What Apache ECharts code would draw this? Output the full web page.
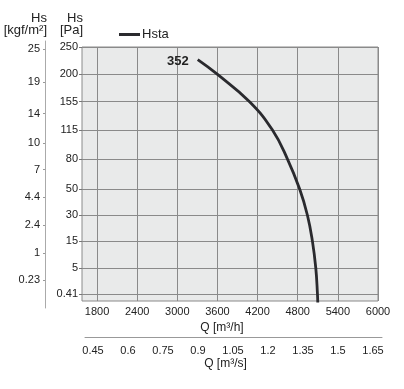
<!DOCTYPE html>
<html><head><meta charset="utf-8">
<script src="https://cdn.jsdelivr.net/npm/echarts@6/dist/echarts.min.js"></script>
<style>html,body{margin:0;padding:0;background:#fff}#c{width:404px;height:389px}</style>
</head><body><div id="c"></div>
<script>
const flowM3h = [3305, 3596, 4080, 4420, 4645, 4830, 4945, 5020, 5070, 5095, 5100];
const pressurePa = [226, 200, 155, 115, 80, 50, 30, 15, 5, 0.41, 0];
const paTicks = [0.41, 5, 15, 30, 50, 80, 115, 155, 200, 250];
const kgfTicks = [0.23, 1, 2.4, 4.4, 7, 10, 14, 19, 25];
const qhTicks = [1800, 2400, 3000, 3600, 4200, 4800, 5400, 6000];
const qsTicks = [0.45, 0.6, 0.75, 0.9, 1.05, 1.2, 1.35, 1.5, 1.65];
const seriesName = 'Hsta';
const pointLabel = '352';
const PA_PER_KGF = 9.81;

const FONT = 'Liberation Sans';
const TXT = '#222';
// square-root pressure scale
const sq = v => Math.sqrt(v);
const paPos = paTicks.map(sq);
const kgfPos = kgfTicks.map(k => sq(k * PA_PER_KGF));

function nearestLabel(val, positions, labels) {
  let best = 0, d = Infinity;
  positions.forEach((p, i) => { const dd = Math.abs(p - val); if (dd < d) { d = dd; best = i; } });
  return String(labels[best]);
}

const chart = echarts.init(document.getElementById('c'), null, {renderer: 'canvas'});
const lbl = {fontFamily: FONT, fontSize: 11, color: TXT};
const Y_MIN = 0.209, Y_MAX = sq(250);
const PX_PER_UNIT = 254 / (Y_MAX - Y_MIN);

chart.setOption({
  animation: false,
  backgroundColor: '#fff',
  textStyle: {fontFamily: FONT},
  legend: {
    left: 114, top: 23, icon: 'rect', itemWidth: 21, itemHeight: 3, itemGap: 4,
    textStyle: {fontFamily: FONT, fontSize: 13, color: TXT, padding: [0, 0, 0, -3]},
    data: [seriesName]
  },
  grid: [
    {left: 82, right: 26, top: 47, bottom: 88, show: true, backgroundColor: '#e9eaea', borderColor: '#8a8a8a', borderWidth: 1, containLabel: false},
    {left: 45, width: 1, top: 41, bottom: 81, show: false, containLabel: false},
    {left: 85, right: 22, top: 336, height: 1, show: false, containLabel: false}
  ],
  xAxis: [
    {
      gridIndex: 0, type: 'value', min: 1575, max: 6000,
      axisLine: {show: false},
      axisTick: {show: false, customValues: qhTicks},
      axisLabel: {...lbl, margin: 5, customValues: qhTicks, formatter: v => String(v)},
      splitLine: {show: true, lineStyle: {color: '#8a8a8a', width: 1}},
      name: 'Q [m³/h]', nameLocation: 'middle', nameGap: 17,
      nameTextStyle: {fontFamily: FONT, fontSize: 12, color: TXT, padding: [0, 16, 0, 0]}
    },
    {
      gridIndex: 1, type: 'value', min: 0, max: 1, show: false
    },
    {
      gridIndex: 2, type: 'value', min: 0.4157, max: 1.6886, position: 'bottom',
      axisLine: {show: true, onZero: false, lineStyle: {color: '#999', width: 1}},
      axisTick: {show: false, customValues: qsTicks},
      axisLabel: {...lbl, margin: 8, customValues: qsTicks, formatter: v => String(v)},
      splitLine: {show: false},
      name: 'Q [m³/s]', nameLocation: 'middle', nameGap: 21,
      nameTextStyle: {fontFamily: FONT, fontSize: 12, color: TXT, padding: [0, 16, 0, 0]}
    }
  ],
  yAxis: [
    {
      gridIndex: 0, type: 'value', min: Y_MIN, max: Y_MAX,
      axisLine: {show: false},
      axisTick: {show: true, length: 3, customValues: paPos, lineStyle: {color: '#777'}},
      axisLabel: {...lbl, margin: 4, customValues: paPos, formatter: v => nearestLabel(v, paPos, paTicks)},
      splitLine: {show: true, lineStyle: {color: '#8a8a8a', width: 1}},
      name: 'Hs\n[Pa]', nameLocation: 'end', nameGap: 11,
      nameTextStyle: {fontFamily: FONT, fontSize: 13, color: TXT, align: 'right', verticalAlign: 'bottom', lineHeight: 12, padding: [0, -1, 0, 0]}
    },
    {
      gridIndex: 1, type: 'value', min: Y_MIN - 7 / PX_PER_UNIT, max: Y_MAX + 6 / PX_PER_UNIT,
      axisLine: {show: true, lineStyle: {color: '#aaa', width: 1}},
      axisTick: {show: true, length: 2, customValues: kgfPos, lineStyle: {color: '#999'}},
      axisLabel: {...lbl, margin: 5, customValues: kgfPos, formatter: v => nearestLabel(v, kgfPos, kgfTicks)},
      splitLine: {show: false},
      name: 'Hs\n[kgf/m²]', nameLocation: 'end', nameGap: 5,
      nameTextStyle: {fontFamily: FONT, fontSize: 13, color: TXT, align: 'right', verticalAlign: 'bottom', lineHeight: 12, padding: [0, -2, 0, 0]}
    },
    {
      gridIndex: 2, type: 'value', min: 0, max: 1, show: false
    }
  ],
  series: [
    {
      name: seriesName, type: 'line', xAxisIndex: 0, yAxisIndex: 0,
      smooth: 0.45, showSymbol: false, symbol: 'none', clip: true,
      lineStyle: {color: '#2a2a2e', width: 2.8},
      itemStyle: {color: '#2a2a2e'},
      data: flowM3h.map((q, i) => [q, sq(pressurePa[i])]),
      markPoint: {
        symbol: 'circle', symbolSize: 0, silent: true,
        data: [{
          coord: [flowM3h[0], sq(pressurePa[0])],
          label: {show: true, position: 'left', distance: 9, formatter: pointLabel,
                  fontFamily: FONT, fontSize: 13, fontWeight: 'bold', color: TXT, offset: [0, 2]}
        }]
      }
    }
  ]
});
</script></body></html>
